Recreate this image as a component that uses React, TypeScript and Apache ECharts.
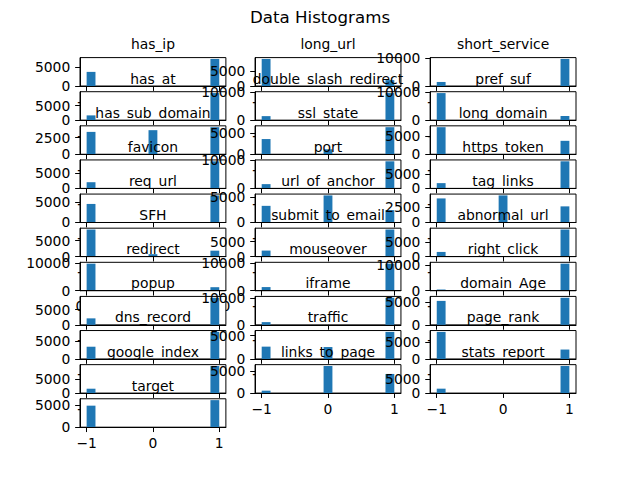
import React, { useEffect, useRef } from "react";
import * as echarts from "echarts";

// ---- data (counts of each value per feature) ----
const featureNames = [
  "has_ip", "long_url", "short_service",
  "has_at", "double_slash_redirect", "pref_suf",
  "has_sub_domain", "ssl_state", "long_domain",
  "favicon", "port", "https_token",
  "req_url", "url_of_anchor", "tag_links",
  "SFH", "submit_to_email", "abnormal_url",
  "redirect", "mouseover", "right_click",
  "popup", "iframe", "domain_Age",
  "dns_record", "traffic", "page_rank",
  "google_index", "links_to_page", "stats_report",
  "target",
];
// count of rows with value -1, 0, 1
const countMinus1 = [
  3793, 8960, 1444, 1655, 1429, 9590, 3363, 3557, 7389, 2053, 1502, 1795,
  4495, 3282, 3956, 8440, 2014, 1629, 0, 1315, 476, 2137, 1012, 5189,
  3443, 2655, 8201, 1539, 548, 1550, 4898,
];
const countZero = [
  0, 135, 0, 0, 0, 0, 3622, 1167, 0, 0, 0, 0,
  0, 5337, 4449, 761, 0, 0, 9776, 0, 0, 0, 0, 0,
  0, 2569, 0, 0, 6156, 0, 0,
];
const countPlus1 = [
  7262, 1960, 9611, 9400, 9626, 1465, 4070, 6331, 3666, 9002, 9553, 9260,
  6560, 2436, 2650, 1854, 9041, 9426, 1279, 9740, 10579, 8918, 10043, 5866,
  7612, 5831, 2854, 9516, 4351, 9505, 6157,
];
// upper y tick of each panel (ticks are 0 and this value)
const yTickTop = [
  5000, 5000, 10000, 5000, 10000, 10000, 2500, 5000, 5000, 5000, 10000, 5000,
  5000, 5000, 2500, 5000, 5000, 5000, 10000, 10000, 10000, 5000, 10000, 5000,
  5000, 5000, 5000, 5000, 5000, 5000, 5000,
];
const xTicksSigned = [-1, 0, 1];
const xTicksUnit = [0, 0.5, 1];
const BINS = 15;
const chartTitle = "Data Histograms";

// ---- layout (matplotlib default subplot params) ----
const W = 640;
const H = 480;
const NCOLS = 3;
const NROWS = 11;
const LEFT = 0.125 * W;
const RIGHT = 0.9 * W;
const TOPY = (1 - 0.88) * H;
const BOTTOMY = (1 - 0.11) * H;
const colW = (RIGHT - LEFT) / (NCOLS + (NCOLS - 1) * 0.2);
const rowH = (BOTTOMY - TOPY) / (NROWS + (NROWS - 1) * 0.2);
const PT = 100 / 72;
const FONT = "DejaVu Sans";
const fs = 10 * PT;
const supFs = 12 * PT;
const tickLen = 3.5 * PT;
const BLUE = "#1f77b4";

function buildOption() {
  const grids: any[] = [];
  const xAxes: any[] = [];
  const yAxes: any[] = [];
  const series: any[] = [];
  const graphics: any[] = [];

  featureNames.forEach((name, i) => {
    const r = Math.floor(i / NCOLS);
    const c = i % NCOLS;
    const left = LEFT + c * colW * 1.2;
    const top = TOPY + r * rowH * 1.2;
    const z = 10 * i + 10;

    const levels = [-1, 0, 1];
    const counts = [countMinus1[i], countZero[i], countPlus1[i]];
    const present = levels.filter((_, k) => counts[k] > 0);
    const lo = Math.min(...present);
    const hi = Math.max(...present);
    const bw = (hi - lo) / BINS;
    const bars: number[][] = [];
    levels.forEach((v, k) => {
      if (counts[k] <= 0) return;
      const b = Math.min(Math.floor((v - lo) / bw + 1e-9), BINS - 1);
      bars.push([lo + b * bw, lo + (b + 1) * bw, counts[k]]);
    });
    const maxC = Math.max(...counts);
    const span = hi - lo;
    const xt = lo === 0 ? xTicksUnit : xTicksSigned;

    grids.push({
      left,
      top,
      width: colW,
      height: rowH,
      show: true,
      backgroundColor: "#ffffff",
      borderColor: "#000000",
      borderWidth: 1,
      containLabel: false,
      outerBoundsMode: "none",
      z,
    });
    xAxes.push({
      type: "value",
      gridIndex: i,
      min: lo - 0.05 * span,
      max: hi + 0.05 * span,
      z: z + 2,
      axisLine: { show: true, onZero: false, lineStyle: { color: "#000", width: 1 } },
      axisTick: { show: true, length: tickLen, lineStyle: { color: "#000", width: 1 }, customValues: xt },
      axisLabel: {
        customValues: xt,
        margin: 8.5,
        fontFamily: FONT,
        fontSize: fs,
        color: "#000",
        formatter: (v: number) =>
          lo === 0 ? v.toFixed(1) : v < 0 ? "\u2212" + Math.abs(v) : String(v),
      },
      splitLine: { show: false },
    });
    yAxes.push({
      type: "value",
      gridIndex: i,
      min: 0,
      max: maxC * 1.05,
      z: z + 2,
      axisLine: { show: true, onZero: false, lineStyle: { color: "#000", width: 1 } },
      axisTick: { show: true, length: tickLen, lineStyle: { color: "#000", width: 1 }, customValues: [0, yTickTop[i]] },
      axisLabel: {
        customValues: [0, yTickTop[i]],
        margin: 2 * tickLen,
        fontFamily: FONT,
        fontSize: fs,
        color: "#000",
        formatter: (v: number) => String(v),
      },
      splitLine: { show: false },
    });
    series.push({
      type: "custom",
      xAxisIndex: i,
      yAxisIndex: i,
      z: z + 1,
      encode: { x: [0, 1], y: 2 },
      data: bars,
      renderItem: (_p: any, api: any) => {
        const p0 = api.coord([api.value(0), api.value(2)]);
        const p1 = api.coord([api.value(1), 0]);
        return {
          type: "rect",
          shape: { x: p0[0], y: p0[1], width: p1[0] - p0[0], height: p1[1] - p0[1] },
          style: { fill: BLUE },
        };
      },
    });
    graphics.push({
      type: "text",
      x: left + colW / 2,
      y: top - 8.333 - 0.346 * fs,
      z: z + 3,
      silent: true,
      style: {
        text: name,
        font: `${fs}px "${FONT}"`,
        fill: "#000",
        align: "center",
        verticalAlign: "middle",
        textAlign: "center",
        textVerticalAlign: "middle",
      },
    });
  });

  graphics.push({
    type: "text",
    x: W / 2,
    y: 23.5 - 0.346 * supFs,
    z: 1000,
    silent: true,
    style: {
      text: chartTitle,
      font: `${supFs}px "${FONT}"`,
      fill: "#000",
      align: "center",
      verticalAlign: "middle",
      textAlign: "center",
      textVerticalAlign: "middle",
    },
  });

  return {
    animation: false,
    backgroundColor: "#ffffff",
    grid: grids,
    xAxis: xAxes,
    yAxis: yAxes,
    series,
    graphic: graphics,
  };
}

export default function App() {
  const ref = useRef<HTMLDivElement>(null);
  useEffect(() => {
    if (!ref.current) return;
    const chart = echarts.init(ref.current, undefined, { renderer: "svg", width: W, height: H });
    chart.setOption(buildOption() as any);
    return () => chart.dispose();
  }, []);
  return (
    <div
      ref={ref}
      style={{ position: "fixed", left: 0, top: 0, width: W, height: H, background: "#fff" }}
    />
  );
}
